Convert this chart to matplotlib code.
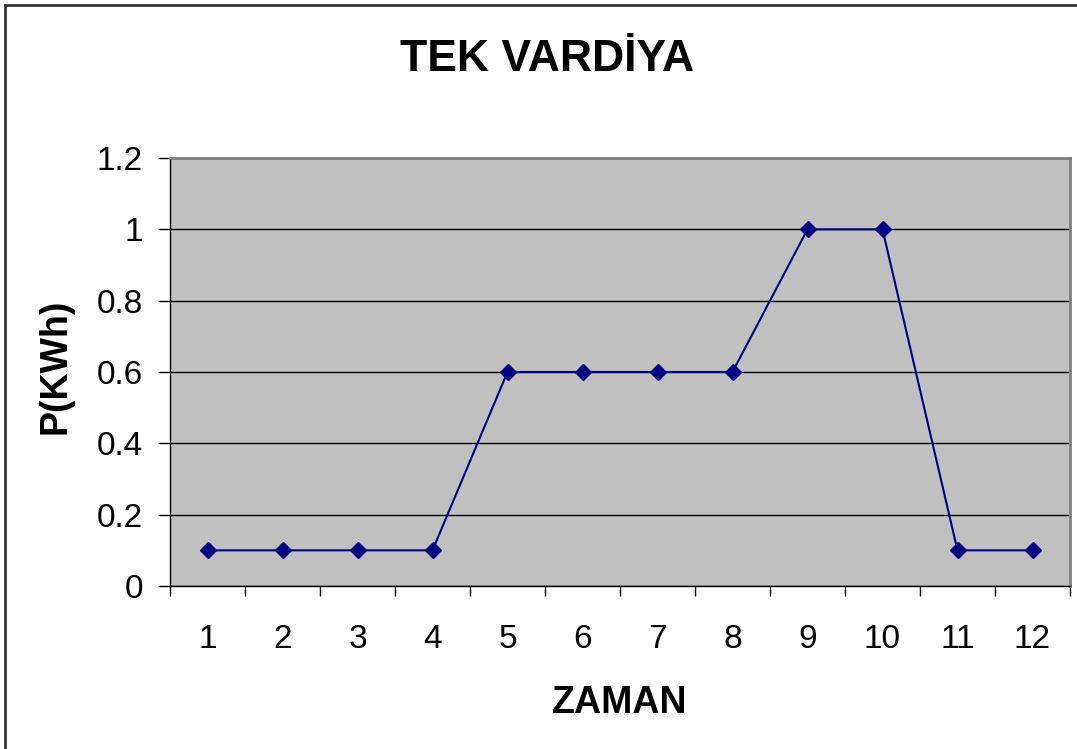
import numpy as np
import matplotlib.pyplot as plt
from matplotlib.lines import Line2D

# Data
zaman = [1, 2, 3, 4, 5, 6, 7, 8, 9, 10, 11, 12]
power = [0.1, 0.1, 0.1, 0.1, 0.6, 0.6, 0.6, 0.6, 1.0, 1.0, 0.1, 0.1]
y_ticks = [0, 0.2, 0.4, 0.6, 0.8, 1, 1.2]
y_labels = ['0', '0.2', '0.4', '0.6', '0.8', '1', '1.2']

plt.rcParams['font.family'] = ['Liberation Sans', 'DejaVu Sans']

W, H = 1077, 749
fig = plt.figure(figsize=(W / 100, H / 100), dpi=100)
ax_left, ax_right, ax_top, ax_bottom = 170, 1070, 158, 586
ax = fig.add_axes([ax_left / W, 1 - ax_bottom / H, (ax_right - ax_left) / W,
                   (ax_bottom - ax_top) / H])
ax.set_facecolor('#C0C0C0')

ax.plot(zaman, power, color='#000080', linewidth=1.5, marker='D', markersize=8,
        markerfacecolor='#000080', markeredgecolor='#000080', zorder=3)

ax.set_xlim(0.5, 12.5)
ax.set_ylim(0, 1.2)

# y axis: gridlines at each tick
ax.set_yticks(y_ticks)
ax.set_yticklabels(y_labels, fontsize=24)
ax.yaxis.grid(True, color='black', linewidth=1)
ax.set_axisbelow(True)

# x axis: labels at categories, tick marks between categories
ax.set_xticks(zaman)
ax.set_xticklabels([str(z) for z in zaman], fontsize=24)
ax.set_xticks(np.arange(0.5, 13, 1), minor=True)
ax.tick_params(axis='x', which='major', length=0, pad=27)
ax.tick_params(axis='x', which='minor', length=7.2, width=1, direction='out')
ax.tick_params(axis='y', which='major', length=8.6, width=1, direction='out', pad=10.8)

for side in ['top', 'right']:
    ax.spines[side].set_color('#808080')
    ax.spines[side].set_linewidth(2)
for side in ['left', 'bottom']:
    ax.spines[side].set_color('black')
    ax.spines[side].set_linewidth(1)

ax.set_xlabel('ZAMAN', fontsize=27, fontweight='bold', va='baseline')
ax.xaxis.set_label_coords((619.5 - ax_left) / (ax_right - ax_left),
                          (ax_bottom - 713) / (ax_bottom - ax_top))
ax.set_ylabel('P(KWh)', fontsize=27, fontweight='bold', va='baseline')
ax.yaxis.set_label_coords((66 - ax_left) / (ax_right - ax_left),
                          (ax_bottom - 366.5) / (ax_bottom - ax_top))
fig.text(547.5 / W, 1 - 71 / H, 'TEK VARDİYA', fontsize=32, fontweight='bold',
         ha='center', va='baseline')

# outer frame (only top and left visible in the reference)
fig.add_artist(Line2D([5 / W, 5 / W], [0, 1 - 5 / H], color='#333333',
                      linewidth=2, transform=fig.transFigure))
fig.add_artist(Line2D([5 / W, 1], [1 - 5 / H, 1 - 5 / H], color='#333333',
                      linewidth=2, transform=fig.transFigure))

fig.savefig('out.png', dpi=100)
